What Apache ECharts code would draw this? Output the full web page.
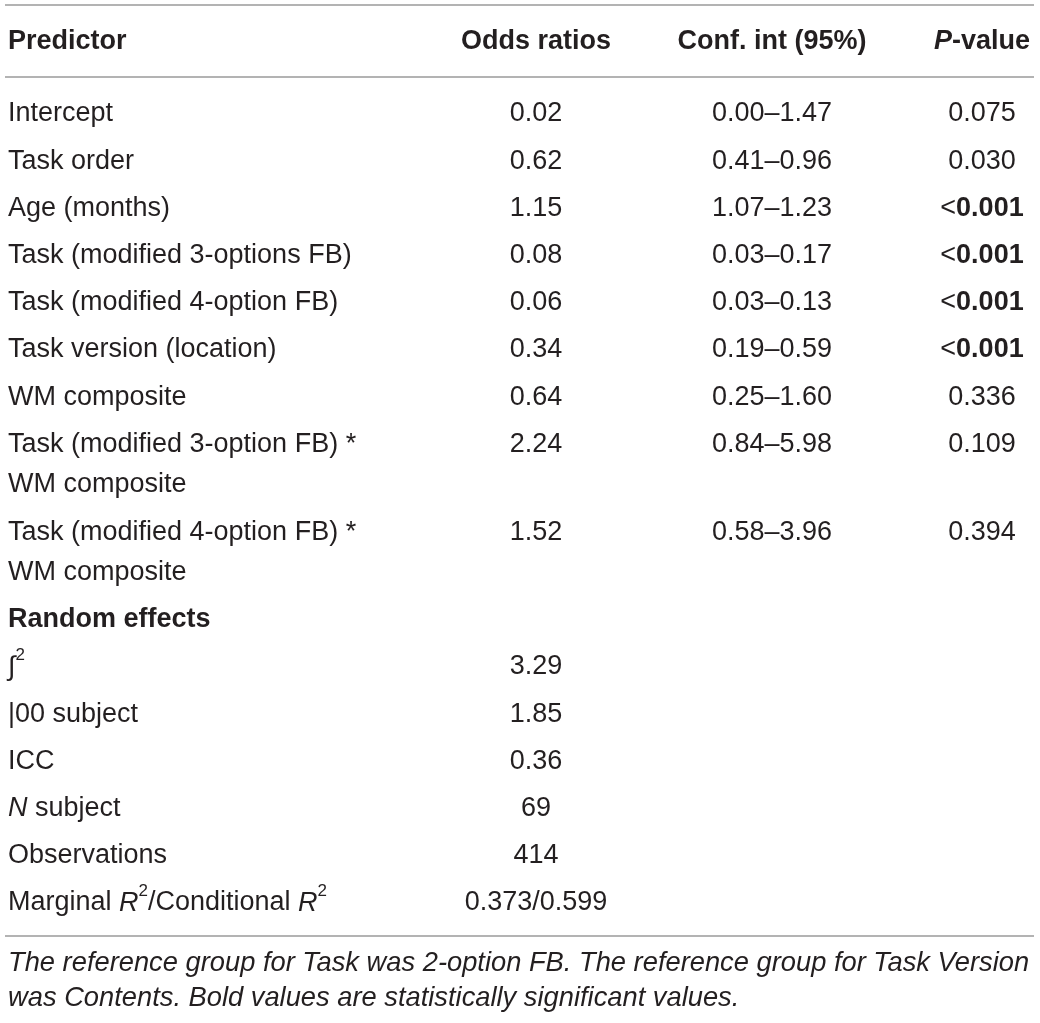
<!DOCTYPE html>
<html>
<head>
<meta charset="utf-8">
<script src="https://cdn.jsdelivr.net/npm/echarts@6/dist/echarts.min.js"></script>
<style>
  html, body { margin: 0; padding: 0; background: #fff; }
  #chart { width: 1040px; height: 1023px; }
</style>
</head>
<body>
<div id="chart"></div>
<script>
// table content
const headers = ['Predictor', 'Odds ratios', 'Conf. int (95%)', '{bi|P}{b|-value}']
const predictors = [
  'Intercept',
  'Task order',
  'Age (months)',
  'Task (modified 3-options FB)',
  'Task (modified 4-option FB)',
  'Task version (location)',
  'WM composite',
  'Task (modified 3-option FB) *\nWM composite',
  'Task (modified 4-option FB) *\nWM composite'
]
const oddsRatios = ['0.02', '0.62', '1.15', '0.08', '0.06', '0.34', '0.64', '2.24', '1.52']
const confInt = ['0.00–1.47', '0.41–0.96', '1.07–1.23', '0.03–0.17', '0.03–0.13', '0.19–0.59', '0.25–1.60', '0.84–5.98', '0.58–3.96']
const pValues = ['0.075', '0.030', '0.001', '0.001', '0.001', '0.001', '0.336', '0.109', '0.394']
const significant = [false, false, true, true, true, true, false, false, false]

const randomTitle = 'Random effects'
const randomLabels = [
  '{it|∫}{sup|2}',
  '|00 subject',
  'ICC',
  '{it|N} subject',
  'Observations',
  'Marginal {it|R}{sup|2}/Conditional {it|R}{sup|2}'
]
const randomValues = ['3.29', '1.85', '0.36', '69', '414', '0.373/0.599']

const footnote = 'The reference group for Task was 2-option FB. The reference group for Task Version\nwas Contents. Bold values are statistically significant values.'

// layout
const FONT = '"Liberation Sans", Arial, sans-serif'
const INK = '#231f20'
const SIZE = 27
const colX = [8, 536, 772, 982]
const rowStep = 47.2
const wrapStep = 40.5
const firstRowY = 114

const rich = {
  b: { fontWeight: 'bold', fontSize: SIZE, fontFamily: FONT, color: INK },
  bi: { fontWeight: 'bold', fontStyle: 'italic', fontSize: SIZE, fontFamily: FONT, color: INK },
  it: { fontStyle: 'italic', fontSize: SIZE, fontFamily: FONT, color: INK },
  n: { fontSize: SIZE, fontFamily: FONT, color: INK },
  sup: { fontSize: 17, fontFamily: FONT, color: INK, verticalAlign: 'top', lineHeight: 20, padding: [0, 0, 12, 0] }
}

function cell(text, x, y, align, opts) {
  return {
    type: 'text',
    x: x,
    y: y,
    style: Object.assign({
      text: text,
      align: align,
      verticalAlign: 'middle',
      fontSize: SIZE,
      fontFamily: FONT,
      fill: INK,
      lineHeight: wrapStep,
      rich: rich
    }, opts || {})
  }
}

function rule(y) {
  return {
    type: 'line',
    shape: { x1: 5, y1: y, x2: 1034, y2: y },
    style: { stroke: '#b3b3b3', lineWidth: 2 }
  }
}

const elements = [rule(5), rule(77), rule(936)]

headers.forEach((h, i) => {
  elements.push(cell(h, colX[i], 42, i === 0 ? 'left' : 'center', { fontWeight: 'bold' }))
})

let y = firstRowY
predictors.forEach((name, i) => {
  const lines = name.split('\n').length
  // wrapped cells are anchored on their first line
  const nameY = y + (lines - 1) * wrapStep / 2
  elements.push(cell(name, colX[0], nameY, 'left'))
  elements.push(cell(oddsRatios[i], colX[1], y, 'center'))
  elements.push(cell(confInt[i], colX[2], y, 'center'))
  const p = significant[i] ? '{n|<}{b|' + pValues[i] + '}' : pValues[i]
  elements.push(cell(p, colX[3], y, 'center'))
  y += rowStep + (lines - 1) * wrapStep
})

elements.push(cell(randomTitle, colX[0], y, 'left', { fontWeight: 'bold' }))
y += rowStep
randomLabels.forEach((label, i) => {
  elements.push(cell(label, colX[0], y, 'left'))
  elements.push(cell(randomValues[i], colX[1], y, 'center'))
  y += rowStep
})

elements.push({
  type: 'text',
  x: 8,
  y: 981,
  style: {
    text: footnote,
    align: 'left',
    verticalAlign: 'middle',
    fontSize: 27.3,
    fontStyle: 'italic',
    fontFamily: FONT,
    fill: INK,
    lineHeight: 35
  }
})

const chart = echarts.init(document.getElementById('chart'))
chart.setOption({
  backgroundColor: '#fff',
  animation: false,
  graphic: { elements: elements }
})
</script>
</body>
</html>
